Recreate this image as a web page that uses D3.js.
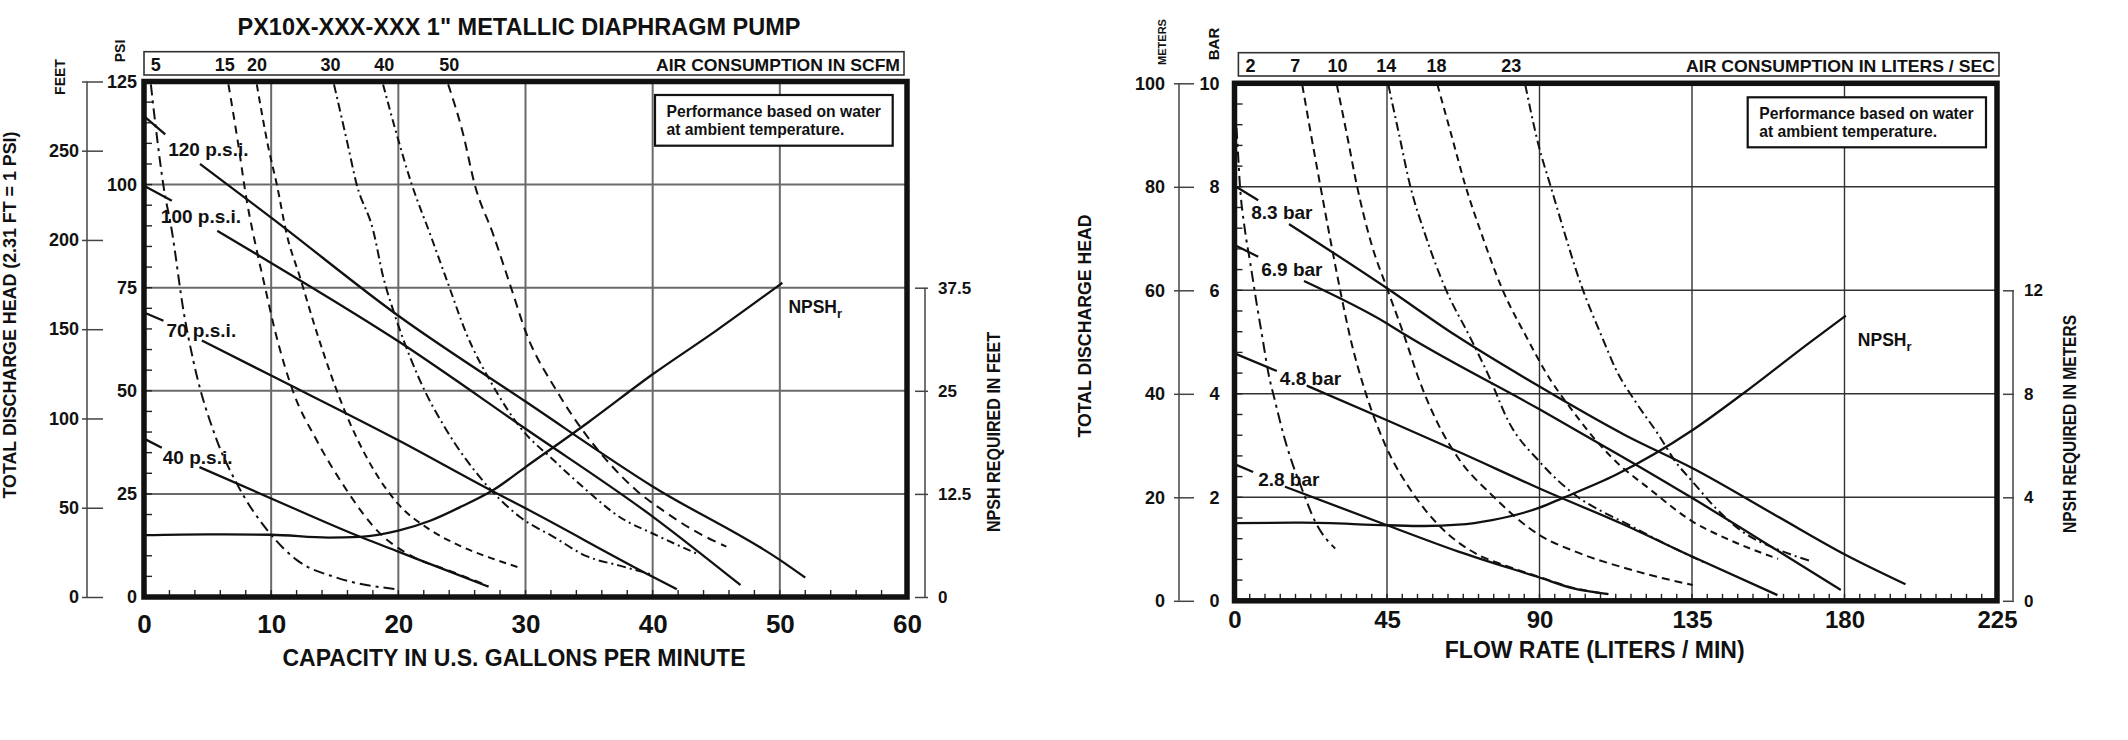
<!DOCTYPE html>
<html><head><meta charset="utf-8">
<script src="https://cdn.jsdelivr.net/npm/d3@7/dist/d3.min.js"></script>
<style>
body{margin:0;background:#fff;}
svg text{font-family:"Liberation Sans",Arial,Helvetica,sans-serif;font-weight:bold;fill:#111;}
</style></head><body>
<svg id="c" width="2128" height="740"></svg>
<script>
// ---------------- DATA ----------------
const title = 'PX10X-XXX-XXX 1" METALLIC DIAPHRAGM PUMP';

// Left chart (US units)
const gpmTicks = [0,10,20,30,40,50,60];
const psiTicks = [0,25,50,75,100,125];
const feetTicks = [0,50,100,150,200,250];
const npshFtTicks = [0,12.5,25,37.5];
const pressureLabelsL = ["120 p.s.i.","100 p.s.i.","70 p.s.i.","40 p.s.i."];
const psi120 = [[0,116.6],[1.67,112.2],null,[4.4,105],[10,92],[20,68.2],[30,47.4],[40,26.8],[50,9],[52,4.7]];
const psi100 = [[0,99.7],[2.19,96.1],null,[5.77,88.8],[10,81],[20,62],[30,40.8],[40,19.5],[46.9,2.9]];
const psi70  = [[0,69],[1.53,67],null,[4.55,62.2],[10,53.7],[20,38],[27.5,25.5],[30,21.5],[40,4.9],[41.9,1.9]];
const psi40  = [[0,38.4],[1.4,36.2],null,[4.36,31.5],[10,23.9],[17,14.6],[20,11],[24,6.2],[27.1,2.5]];
const airLabelsL = ["5","15","20","30","40","50"];
const airLabelGpm = [0.92,6.36,8.89,14.66,18.9,24.0];
const scfm5  = [[0.54,124.3],[1.0,112],[1.53,99.7],[2.19,88.8],[3.1,69.5],[3.9,57],[5.73,38],[7.3,27.5],[9.91,15.4],[12,9],[15.15,4.7],[19.87,1.9]];
const scfm15 = [[6.64,124.3],[7.4,110],[8.08,96.1],[8.8,85],[9.52,75.1],[10.3,64.6],[11.74,49.7],[13.58,38],[15.94,25.9],[18.3,16.2],[21.17,9.75],[24,6.4],[26.8,3.0]];
const scfm20 = [[8.87,124.3],[9.78,109],[10.44,100.1],[11.22,88],[12.27,77.5],[13.58,64.2],[15.67,46],[17.77,32.4],[20,22.5],[22.5,16.3],[25,12.2],[27.5,9.2],[29.45,7.2]];
const scfm30 = [[14.94,124.3],[16.0,110],[16.72,100.1],[18.03,88.8],[18.82,77.5],[19.6,69.5],[20.14,64.6],[21.7,52.5],[23.8,40.4],[26.4,29.1],[29.56,19.4],[32.2,14.6],[34.8,9.9],[37.4,7.6],[39.8,5.6]];
const scfm40 = [[18.8,124.3],[19.87,112.2],[21.05,100.1],[22.5,88],[23.92,75.9],[25.36,63.8],[27.3,52],[29.56,41.2],[32.2,33.2],[34.8,25.9],[37.4,19.4],[40,15.4],[43.56,10.4]];
const scfm50 = [[23.92,124.3],[25.1,112.2],[26.0,100.1],[27.45,88],[28.77,75.9],[30.08,63.8],[32.43,50.1],[34.5,40.4],[36.6,32.4],[38.7,25.9],[40.8,21],[43.2,16.2],[45.8,12.2]];
const npshFt = [[0,7.5],[5,7.6],[10,7.55],[14.5,7.2],[17,7.3],[20,8.05],[22.5,9.25],[25,11],[27.5,13],[30,15.75],[35,21.25],[40,27],[45,32.3],[50.2,38.1]];

// Right chart (metric)
const lpmTicks = [0,45,90,135,180,225];
const barTicks = [0,2,4,6,8,10];
const meterTicks = [0,20,40,60,80,100];
const npshMTicks = [0,4,8,12];
const pressureLabelsR = ["8.3 bar","6.9 bar","4.8 bar","2.8 bar"];
const bar83 = [[0,80.2],[7,77.4],null,[16.1,72.8],[45,60.4],[65,51.4],[90,41.4],[115.3,32],[135.2,25.6],[160,16.4],[180.4,8.85],[198,3.2]];
const bar69 = [[0,68.75],[7,66.5],null,[20.5,61.8],[45,53.6],[50.4,51.4],[90,37],[115.3,27.5],[135.2,19.8],[160,9.8],[178.9,2.1]];
const bar48 = [[0,47.8],[12.5,44.4],null,[21.3,41.6],[45,34.9],[67.1,28.5],[90,21.7],[115.3,14.6],[135.2,8.5],[160.2,1.1]];
const bar28 = [[0,26.4],[5.5,24.9],null,[14.9,22.05],[45,14.6],[66.1,9.5],[90,4.5],[100,2.4],[110.3,1.3]];
const airLabelsR = ["2","7","10","14","18","23"];
const airLabelLpm = [4.7,17.9,30.4,44.8,59.6,81.7];
const lps2  = [[0.1,96],[0.9,88],[1.6,80.3],[3,72],[4.6,65.5],[6.6,57.2],[8.2,51],[10,44],[12,38.5],[14.5,32],[16.9,26.9],[19.85,21.7],[23.8,15.3],[29.7,10.1]];
const lps7  = [[20,99.7],[22.6,90],[25.3,80.3],[28.6,68.7],[31.5,59],[34.1,51],[38.6,40.4],[44.5,30.1],[52.3,21.1],[60.2,14.65],[71,9.2],[80,6.8],[90,4.6],[100,2.5],[110.3,1.3]];
const lps10 = [[30.2,99.7],[33.2,90],[36.1,80.3],[40.5,68.75],[45,60.4],[50.2,51],[54.3,43],[60.2,34],[66.1,27.5],[76,20.4],[90,12.7],[100.6,9.5],[115.4,6.3],[125,4.6],[135.2,3.05]];
const lps14 = [[45.4,99.7],[48.6,90],[51.8,80.3],[56.3,70.7],[62.2,60.4],[69.6,50.8],[75,43.5],[80.9,34.6],[90,26.9],[100.6,20.4],[110.4,16.6],[115.4,15.0],[125,11.7],[139,7.3]];
const lps18 = [[59.9,99.7],[64,90],[68.1,80.3],[73,70.7],[78.9,60.4],[86.3,50.8],[92,44],[100,36.5],[106,31.5],[112.4,27],[122.3,21.7],[135.2,15.3],[144.9,12.1],[160.4,8.1]];
const lps23 = [[85.8,99.7],[89.7,88.1],[93.2,80.3],[96.7,72.6],[101.6,62.3],[109,50.1],[112.4,44.9],[118.3,38.5],[125.2,32],[130.1,26.9],[135.2,23],[142,17.9],[149.8,13.4],[160,10],[170.5,7.6]];
const npshM = [[0,3.0],[20,3.02],[45,2.92],[56,2.89],[66,2.94],[76,3.12],[90,3.6],[96.6,3.96],[112.4,4.86],[135.2,6.6],[150.8,8.08],[169.5,9.96],[180.4,11.02]];

// ---------------- LAYOUT / STYLE ----------------
const svg = d3.select("#c");
const F = '"Liberation Sans",Arial,Helvetica,sans-serif';

function txt(g, s, x, y, size, opts={}) {
  const t = g.append("text").attr("x", x).attr("y", y).attr("font-size", size).text(s);
  if (opts.anchor) t.attr("text-anchor", opts.anchor);
  if (opts.len) t.attr("textLength", opts.len).attr("lengthAdjust", "spacingAndGlyphs");
  if (opts.rot) t.attr("transform", `rotate(-90,${x},${y})`);
  if (opts.dy) t.attr("dy", opts.dy);
  return t;
}

function panel(cfg) {
  const g = svg.append("g");
  const {x, y, yR} = cfg;
  const [x0, x1] = x.range();
  const [yb, yt] = y.range();
  // grid
  g.append("g").selectAll("line").data(cfg.xTicks.slice(1, -1)).join("line")
    .attr("x1", d => x(d)).attr("x2", d => x(d)).attr("y1", yb).attr("y2", yt)
    .attr("stroke", cfg.gridColor).attr("stroke-width", cfg.gridW);
  g.append("g").selectAll("line").data(cfg.yTicks.slice(1, -1)).join("line")
    .attr("x1", x0).attr("x2", x1).attr("y1", d => y(d)).attr("y2", d => y(d))
    .attr("stroke", cfg.gridColor).attr("stroke-width", cfg.gridW);
  // minor ticks
  g.append("g").selectAll("line").data(cfg.minorY).join("line")
    .attr("x1", x0).attr("x2", x0 + 8).attr("y1", d => y(d)).attr("y2", d => y(d))
    .attr("stroke", "#222").attr("stroke-width", 1.4);
  g.append("g").selectAll("line").data(cfg.minorX).join("line")
    .attr("x1", d => x(d)).attr("x2", d => x(d)).attr("y1", yb).attr("y2", yb - 7)
    .attr("stroke", "#222").attr("stroke-width", 1.4);

  const line = d3.line().defined(d => d != null).x(d => x(d[0])).y(d => y(d[1])).curve(d3.curveMonotoneX);
  // air curves
  cfg.air.forEach((c, i) => {
    g.append("path").attr("d", line(c)).attr("fill", "none").attr("stroke", "#111")
      .attr("stroke-width", 2).attr("stroke-dasharray", cfg.dash[i]);
  });
  // pressure lines
  cfg.press.forEach((c, i) => {
    g.append("path").attr("d", line(c)).attr("fill", "none").attr("stroke", "#111").attr("stroke-width", 2.3);
    const gi = c.indexOf(null);
    const a = c[gi - 1], b = c[gi + 1];
    txt(g, cfg.pressLabels[i], x(a[0]) + cfg.labelDx[i], (y(a[1]) + y(b[1])) / 2, 19, {dy: "0.36em"});
  });
  // NPSH
  const lineN = d3.line().x(d => x(d[0])).y(d => yR(d[1])).curve(d3.curveMonotoneX);
  g.append("path").attr("d", lineN(cfg.npsh)).attr("fill", "none").attr("stroke", "#111").attr("stroke-width", 2.3);
  const ne = cfg.npsh[cfg.npsh.length - 1];
  const nt = txt(g, "NPSH", x(ne[0]) + cfg.npshDx, yR(ne[1]) + cfg.npshDy, 17.5);
  nt.append("tspan").attr("font-size", 13).attr("dy", 5).text("r");

  // border
  g.append("rect").attr("x", x0).attr("y", yt).attr("width", x1 - x0).attr("height", yb - yt)
    .attr("fill", "none").attr("stroke", "#111").attr("stroke-width", 5.5);

  // bottom axis labels
  const ax = g.append("g").attr("transform", `translate(0,${yb})`)
    .call(d3.axisBottom(x).tickValues(cfg.xTicks).tickSize(0).tickFormat(d3.format("d")));
  ax.select(".domain").remove();
  ax.selectAll("text").attr("dy", null).attr("y", cfg.xLabY).attr("font-size", cfg.xLabSize)
    .attr("font-family", F).attr("fill", "#111");

  // left inner axis labels (psi / bar)
  const ay = g.append("g").attr("transform", `translate(${x0},0)`)
    .call(d3.axisLeft(y).tickValues(cfg.yTicks).tickSize(0).tickPadding(cfg.yPad).tickFormat(cfg.yFmt));
  ay.select(".domain").remove();
  ay.selectAll("text").attr("font-size", 18).attr("font-family", F).attr("fill", "#111");

  // outer left axis (feet / meters)
  const o = cfg.outer;
  g.append("line").attr("x1", o.lineX).attr("x2", o.lineX).attr("y1", yb).attr("y2", yt)
    .attr("stroke", "#444").attr("stroke-width", 1.5);
  const ao = g.append("g").attr("transform", `translate(${o.tickR},0)`)
    .call(d3.axisLeft(o.scale).tickValues(o.ticks).tickSize(o.tickR - o.tickL).tickPadding(o.pad)
      .tickFormat(d => o.labels.includes(d) ? String(d) : ""));
  ao.select(".domain").remove();
  ao.selectAll("line").attr("stroke", "#444").attr("stroke-width", 1.5);
  ao.selectAll("text").attr("font-size", 18).attr("font-family", F).attr("fill", "#111");

  // right NPSH axis
  const r = cfg.right;
  g.append("line").attr("x1", r.lineX).attr("x2", r.lineX).attr("y1", yb).attr("y2", yR(r.ticks[r.ticks.length - 1]))
    .attr("stroke", "#444").attr("stroke-width", 1.5);
  const ar = g.append("g").attr("transform", `translate(${r.tickL},0)`)
    .call(d3.axisRight(yR).tickValues(r.ticks).tickSize(r.tickR - r.tickL).tickPadding(r.pad).tickFormat(d => String(d)));
  ar.select(".domain").remove();
  ar.selectAll("line").attr("stroke", "#444").attr("stroke-width", 1.5);
  ar.selectAll("text").attr("font-size", 17).attr("font-family", F).attr("fill", "#111");

  // top air consumption box
  const tb = cfg.topBox;
  g.append("rect").attr("x", tb.x0).attr("y", tb.y0).attr("width", tb.x1 - tb.x0).attr("height", tb.y1 - tb.y0)
    .attr("fill", "none").attr("stroke", "#333").attr("stroke-width", 1.6);
  g.append("g").selectAll("text").data(cfg.airLabels).join("text")
    .attr("x", (d, i) => x(cfg.airLabelX[i])).attr("y", tb.y1 - 4.5).attr("text-anchor", "middle")
    .attr("font-size", 18).text(d => d);
  txt(g, cfg.airTitle, tb.x1 - 4, tb.y1 - 4.5, 17, {anchor: "end", len: cfg.airTitleLen});

  // performance note
  const nb = cfg.noteBox;
  g.append("rect").attr("x", nb.x0).attr("y", nb.y0).attr("width", nb.x1 - nb.x0).attr("height", nb.y1 - nb.y0)
    .attr("fill", "#fff").attr("stroke", "#111").attr("stroke-width", 2.2);
  txt(g, "Performance based on water", nb.x0 + 11.5, nb.y0 + 21.5, 15.7);
  txt(g, "at ambient temperature.", nb.x0 + 11.5, nb.y0 + 40, 15.7);
  return g;
}

// Left panel
const xL = d3.scaleLinear([0, 60], [144, 907]);
const yL = d3.scaleLinear([0, 125], [597, 81.5]);
const yFt = d3.scaleLinear([0, 288.75], [597, 81.5]);
const yNpshFt = d3.scaleLinear([0, 62.5], [597, 81.5]);

panel({
  x: xL, y: yL, yR: yNpshFt,
  xTicks: gpmTicks, yTicks: psiTicks, yFmt: d => String(d),
  minorY: d3.range(5, 125, 5), minorX: d3.range(2, 60, 2),
  gridColor: "#6a6a6a", gridW: 2,
  air: [scfm5, scfm15, scfm20, scfm30, scfm40, scfm50],
  dash: ["11,5,3,5", "8,6", "7,5", "9,4,2,4", "8,4,2,4", "9,6"],
  press: [psi120, psi100, psi70, psi40], pressLabels: pressureLabelsL, labelDx: [3, -11, 3, 1],
  npsh: npshFt, npshDx: 6, npshDy: 30,
  xLabY: 36, xLabSize: 26, yPad: 7,
  outer: {scale: yFt, ticks: feetTicks.concat([288.75]), labels: feetTicks, lineX: 87, tickL: 82, tickR: 103, pad: 3},
  right: {ticks: npshFtTicks, lineX: 925, tickL: 915, tickR: 928, pad: 10},
  topBox: {x0: 144, x1: 904, y0: 51.7, y1: 75},
  airLabels: airLabelsL, airLabelX: airLabelGpm,
  airTitle: "AIR CONSUMPTION IN SCFM", airTitleLen: 244,
  noteBox: {x0: 655, y0: 95, x1: 892.7, y1: 145.7}
});

// Right panel: head plotted in meters; inner labels show bar (= meters / 10)
const xR = d3.scaleLinear([0, 225], [1234.5, 1997]);
const yM = d3.scaleLinear([0, 100], [600.8, 83.3]);
const yNpshM = d3.scaleLinear([0, 20], [600.8, 83.3]);

panel({
  x: xR, y: yM, yR: yNpshM,
  xTicks: lpmTicks, yTicks: meterTicks, yFmt: d => String(barTicks[meterTicks.indexOf(d)]),
  minorY: d3.range(4, 100, 4), minorX: d3.range(4.5, 225, 4.5),
  gridColor: "#333", gridW: 1.4,
  air: [lps2, lps7, lps10, lps14, lps18, lps23],
  dash: ["11,5,3,5", "8,5", "8,5", "9,4,2,4", "7,5", "9,4,2,4"],
  press: [bar83, bar69, bar48, bar28], pressLabels: pressureLabelsR, labelDx: [-7, 3, 3, 5],
  npsh: npshM, npshDx: 12, npshDy: 30,
  xLabY: 27, xLabSize: 24, yPad: 15,
  outer: {scale: yM, ticks: meterTicks, labels: meterTicks, lineX: 1179, tickL: 1174, tickR: 1194, pad: 9},
  right: {ticks: npshMTicks, lineX: 2013, tickL: 2003, tickR: 2014, pad: 10},
  topBox: {x0: 1238.4, x1: 1999, y0: 52.7, y1: 76},
  airLabels: airLabelsR, airLabelX: airLabelLpm,
  airTitle: "AIR CONSUMPTION IN LITERS / SEC", airTitleLen: 309,
  noteBox: {x0: 1747.7, y0: 97.3, x1: 1986, y1: 147.3}
});

// Titles & axis titles
const T = svg.append("g");
txt(T, title, 519, 35, 23.5, {anchor: "middle"});
txt(T, "CAPACITY IN U.S. GALLONS PER MINUTE", 514, 666, 23, {anchor: "middle"});
txt(T, "FLOW RATE (LITERS / MIN)", 1594.7, 658.3, 23, {anchor: "middle"});
txt(T, "TOTAL DISCHARGE HEAD (2.31 FT = 1 PSI)", 16, 315, 18, {anchor: "middle", rot: true, len: 367});
txt(T, "FEET", 65, 77, 14, {anchor: "middle", rot: true});
txt(T, "PSI", 125, 51, 14, {anchor: "middle", rot: true});
txt(T, "NPSH REQUIRED IN FEET", 1000, 432, 19, {anchor: "middle", rot: true, len: 200});
txt(T, "TOTAL DISCHARGE HEAD", 1091, 326, 19, {anchor: "middle", rot: true, len: 223});
txt(T, "METERS", 1165.5, 42, 11, {anchor: "middle", rot: true});
txt(T, "BAR", 1218.5, 44, 15, {anchor: "middle", rot: true});
txt(T, "NPSH REQUIRED IN METERS", 2076, 424, 19, {anchor: "middle", rot: true, len: 218});
</script>
</body></html>
